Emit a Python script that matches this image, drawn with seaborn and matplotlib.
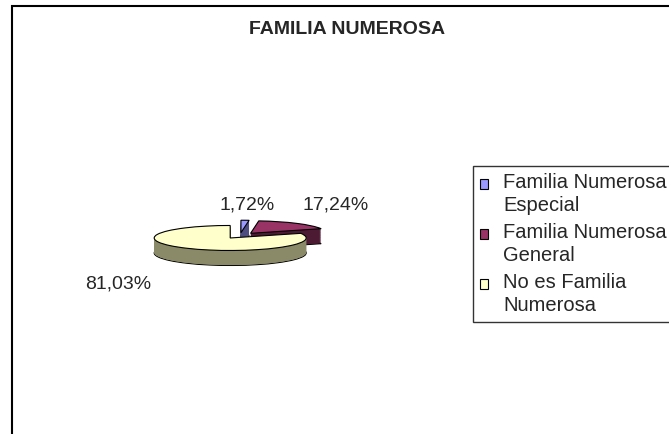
import numpy as np
import matplotlib
matplotlib.use("Agg")
import matplotlib.pyplot as plt
from matplotlib.patches import Rectangle
from matplotlib.legend_handler import HandlerPatch
import seaborn as sns

# =========================
# Data
# =========================
title = "FAMILIA NUMEROSA"
categories = ["Familia Numerosa Especial", "Familia Numerosa General", "No es Familia Numerosa"]
legend_labels = ["Familia Numerosa\nEspecial", "Familia Numerosa\nGeneral", "No es Familia\nNumerosa"]
values = [1.72, 17.24, 81.03]
pct_labels = ["1,72%", "17,24%", "81,03%"]

# =========================
# Style
# =========================
top_colors = ["#9999FF", "#993366", "#FFFFCC"]
side_colors = ["#4D4D80", "#4D1A33", "#8A8A68"]
explode = [0.23, 0.23, 0.23]

sns.set_style("white")
plt.rcParams["font.family"] = ["Liberation Sans", "DejaVu Sans"]

W, H = 669, 434
fig = plt.figure(figsize=(W / 100, H / 100), dpi=100)

# pie axes: stretched so the pie looks like a flat 3D disc
cx, cy = 240, 235.6    # pie centre (pixels)
rx, ry = 76, 12.5      # pixels per unit in x / y
depth = 15 / ry
x0, x1, y0, y1 = 60, 420, 180, 310
ax = fig.add_axes([x0 / W, 1 - y1 / H, (x1 - x0) / W, (y1 - y0) / H])

# side (extruded) layers
for d in np.linspace(depth, 0, 40)[:-1]:
    lw = 0.8 if d == depth else 0
    ax.pie(values, colors=side_colors, startangle=90, counterclock=False,
           explode=explode, center=(0, -d),
           wedgeprops=dict(edgecolor="black" if lw else "none", linewidth=lw))

# top face
wedges, _ = ax.pie(values, colors=top_colors, startangle=90, counterclock=False,
                   explode=explode, center=(0, 0),
                   wedgeprops=dict(edgecolor="black", linewidth=0.8))

ax.set_aspect("auto")
ax.set_xlim((x0 - cx) / rx, (x1 - cx) / rx)
ax.set_ylim((cy - y1) / ry, (cy - y0) / ry)
ax.axis("off")

# percentage labels
label_pos = [(0.092, 2.45), (1.263, 2.45), (-1.605, -3.87)]
for (lx, ly), txt in zip(label_pos, pct_labels):
    ax.text(lx, ly, txt, ha="center", va="center", fontsize=14)

# title
fig.text(347 / W, 1 - 29 / H, title, ha="center", va="center",
         fontsize=14, fontweight="bold")


# legend squares sit next to the first line of each label
def top_square(legend, orig_handle, xdescent, ydescent, width, height, fontsize):
    return Rectangle((-xdescent, -ydescent + 0.52 * fontsize), width, height)


leg = fig.legend(wedges, legend_labels, loc="upper left",
                 bbox_to_anchor=(473 / W, 1 - 166 / H), frameon=True,
                 fancybox=False, edgecolor="black", fontsize=14.5,
                 handlelength=0.4, handleheight=0.4, labelspacing=0.42,
                 borderpad=0.35, handletextpad=0.75, borderaxespad=0,
                 handler_map={w: HandlerPatch(patch_func=top_square) for w in wedges})
leg.get_frame().set_linewidth(1)
for t in leg.get_texts():
    t.set_linespacing(1.25)

# outer chart border (only left and top visible)
fig.patches.append(Rectangle((12 / W, -0.2), 1.5, 1.2 - 5.5 / H, transform=fig.transFigure,
                             fill=False, edgecolor="black", linewidth=1.5))

plt.savefig("out.png", dpi=100)
plt.close()
